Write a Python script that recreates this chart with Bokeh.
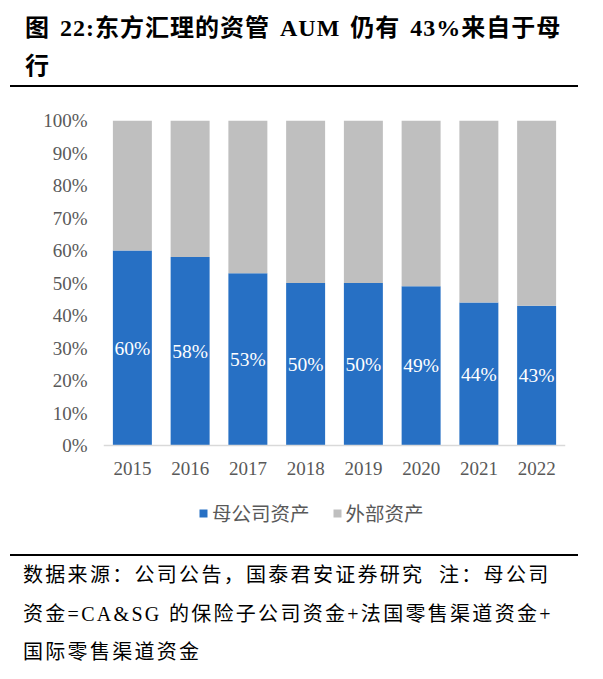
from bokeh.plotting import figure
from bokeh.models import (FactorRange, Range1d, FixedTicker, NumeralTickFormatter,
                          Legend, LegendItem, Div, ColumnDataSource)
from bokeh.layouts import column
from bokeh.core.properties import value
from bokeh.embed import file_html
from bokeh.resources import INLINE

# ---- data ----
years = ["2015", "2016", "2017", "2018", "2019", "2020", "2021", "2022"]
parent_share = [0.60, 0.58, 0.53, 0.50, 0.50, 0.49, 0.44, 0.43]
external_share = [0.40, 0.42, 0.47, 0.50, 0.50, 0.51, 0.56, 0.57]
bar_labels = ["60%", "58%", "53%", "50%", "50%", "49%", "44%", "43%"]
y_ticks = [0.0, 0.1, 0.2, 0.3, 0.4, 0.5, 0.6, 0.7, 0.8, 0.9, 1.0]
series_names = ["母公司资产", "外部资产"]

title_line1 = "图 22:东方汇理的资管 AUM 仍有 43%来自于母"
title_line2 = "行"
footer_lines = [
    "数据来源：公司公告，国泰君安证券研究&nbsp; 注：母公司",
    "资金=CA&amp;SG 的保险子公司资金+法国零售渠道资金+",
    "国际零售渠道资金",
]

BLUE = "#2770C4"
GREY = "#BFBFBF"
LABEL_GREY = "#595959"

src = ColumnDataSource(dict(
    year=years,
    parent=parent_share,
    external=external_share,
    mid=[v / 2 for v in parent_share],
    lbl=bar_labels,
))

# frame: 325 px for 0..1, extended 100 px below zero for tick labels + legend
p = figure(
    width=587, height=462,
    x_range=FactorRange(factors=years, range_padding=0),
    y_range=Range1d(-100 / 325, 1),
    output_backend="svg", toolbar_location=None,
    min_border_left=95, min_border_right=30,
    min_border_top=32, min_border_bottom=5,
    margin=(0, 0, 0, 8),
)
p.outline_line_color = None
p.xgrid.visible = False
p.ygrid.visible = False

rs = p.vbar_stack(["parent", "external"], x="year", width=0.675,
                  color=[BLUE, GREY], line_color=None, source=src)

p.text(x="year", y="mid", text="lbl", source=src,
       text_align="center", text_baseline="middle",
       text_color="white", text_font=value("Liberation Serif"),
       text_font_size="19.5px")

# axes
p.yaxis.ticker = FixedTicker(ticks=y_ticks)
p.yaxis.formatter = NumeralTickFormatter(format="0%")
p.yaxis.axis_line_color = None
p.yaxis.major_tick_line_color = None
p.yaxis.minor_tick_line_color = None
p.yaxis.major_tick_out = 0
p.yaxis.major_label_standoff = 16
p.yaxis.major_label_text_font = "Liberation Serif"
p.yaxis.major_label_text_font_size = "19px"
p.yaxis.major_label_text_color = LABEL_GREY

p.xaxis.fixed_location = 0
p.xaxis.axis_line_color = "#D9D9D9"
p.xaxis.axis_line_width = 1.5
p.xaxis.major_tick_line_color = None
p.xaxis.minor_tick_line_color = None
p.xaxis.major_tick_out = 0
p.xaxis.major_label_standoff = 16
p.xaxis.major_label_text_font = "Liberation Serif"
p.xaxis.major_label_text_font_size = "19px"
p.xaxis.major_label_text_color = LABEL_GREY

legend = Legend(
    items=[LegendItem(label=series_names[0], renderers=[rs[0]]),
           LegendItem(label=series_names[1], renderers=[rs[1]])],
    orientation="horizontal", location=(95, 18),
    glyph_width=10, glyph_height=10, label_standoff=4, spacing=22,
    padding=0, margin=0, border_line_color=None, background_fill_alpha=0,
    label_text_font="Noto Sans CJK SC", label_text_font_size="19.5px",
    label_text_color=LABEL_GREY, label_height=20,
)
p.add_layout(legend, "center")

title_html = (
    '<div style="padding-top:1px;padding-left:17px;width:560px;'
    "font-family:'Liberation Serif','Noto Sans CJK SC',serif;font-weight:bold;"
    'font-size:24px;letter-spacing:1.0px;word-spacing:3px;line-height:38px;'
    'color:#000;white-space:nowrap;">'
    f'{title_line1}<br>{title_line2}</div>'
    '<div style="margin-left:2px;width:568px;border-top:2px solid #000;"></div>'
)
title_div = Div(text=title_html, width=587, height=80, margin=(8, 0, 0, 8))

fl_style = ("padding-left:15px;white-space:nowrap;"
            "font-family:'Liberation Serif','Noto Sans CJK SC',serif;"
            "font-size:20px;letter-spacing:2.3px;color:#000;")
footer_html = (
    '<div style="margin-top:4px;margin-left:2px;width:568px;border-top:2px solid #000;"></div>'
    f'<div style="{fl_style}height:39px;line-height:39px;">{footer_lines[0]}</div>'
    f'<div style="{fl_style}height:39px;line-height:39px;">{footer_lines[1]}</div>'
    f'<div style="{fl_style}height:37px;line-height:37px;">{footer_lines[2]}</div>'
)
footer_div = Div(text=footer_html, width=587, height=121, margin=(0, 0, 0, 8))

layout = column(title_div, p, footer_div, spacing=0)

open("out.html", "w").write(file_html(layout, INLINE))
